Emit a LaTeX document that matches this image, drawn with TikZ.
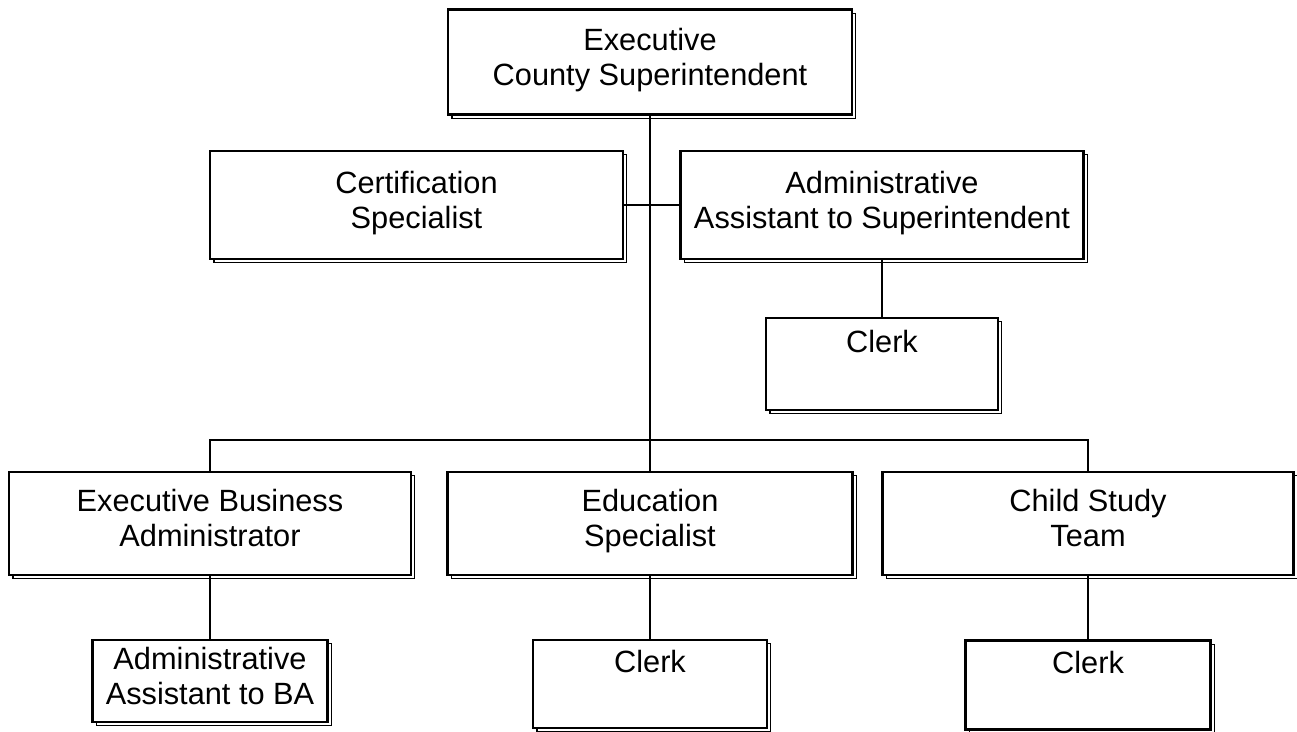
\documentclass[tikz,border=0pt]{standalone}
\usepackage{fontspec}
\setmainfont{Liberation Sans}
\usetikzlibrary{shadows}

\tikzset{
  orgbox/.style={draw, line width=1.6pt, fill=white, align=center, inner sep=2pt,
    font=\fontsize{17.5}{20}\selectfont,
    copy shadow={shadow xshift=2.2pt, shadow yshift=-2.2pt, draw=black, fill=white, line width=0.7pt}},
  link/.style={line width=1.1pt}
}

\begin{document}
\begin{tikzpicture}[x=0.02cm, y=-0.02cm]
    \useasboundingbox (0,0) rectangle (1297,732);

    % Top level
    \node[orgbox, minimum width=8.08cm, minimum height=2.10cm] (exec) at (650,62) {Executive\\County Superintendent\strut};

    % Staff row
    \node[orgbox, minimum width=8.26cm, minimum height=2.16cm] (cert) at (416.5,205) {Certification\\Specialist\strut};
    \node[orgbox, minimum width=8.06cm, minimum height=2.16cm] (asst) at (882,205) {Administrative\\Assistant to Superintendent\strut};
    \node[orgbox, minimum width=4.64cm, minimum height=1.84cm] (clerkA) at (882,364) {Clerk\\\strut};

    % Departments
    \node[orgbox, minimum width=8.04cm, minimum height=2.06cm] (eba) at (210,523.5) {Executive Business\\Administrator\strut};
    \node[orgbox, minimum width=8.10cm, minimum height=2.06cm] (edu) at (650,523.5) {Education\\Specialist\strut};
    \node[orgbox, minimum width=8.22cm, minimum height=2.06cm] (cst) at (1088,523.5) {Child Study\\Team\strut};

    % Support staff
    \node[orgbox, minimum width=4.70cm, minimum height=1.64cm] (aaba) at (210,681) {Administrative\\Assistant to BA\strut};
    \node[orgbox, minimum width=4.68cm, minimum height=1.76cm] (clerkB) at (650,684) {Clerk\\\strut};
    \node[orgbox, minimum width=4.90cm, minimum height=1.78cm] (clerkC) at (1088,685) {Clerk\\\strut};

    % Connectors
    \coordinate (bus) at (650,440);
    \draw[link] (exec.south) -- (bus);
    \draw[link] (cert.east) -- (asst.west);
    \draw[link] (asst.south) -- (clerkA.north);
    \draw[link] (eba.north) |- (bus) -| (cst.north);
    \draw[link] (bus) -- (edu.north);
    \draw[link] (eba.south) -- (aaba.north);
    \draw[link] (edu.south) -- (clerkB.north);
    \draw[link] (cst.south) -- (clerkC.north);
\end{tikzpicture}
\end{document}
